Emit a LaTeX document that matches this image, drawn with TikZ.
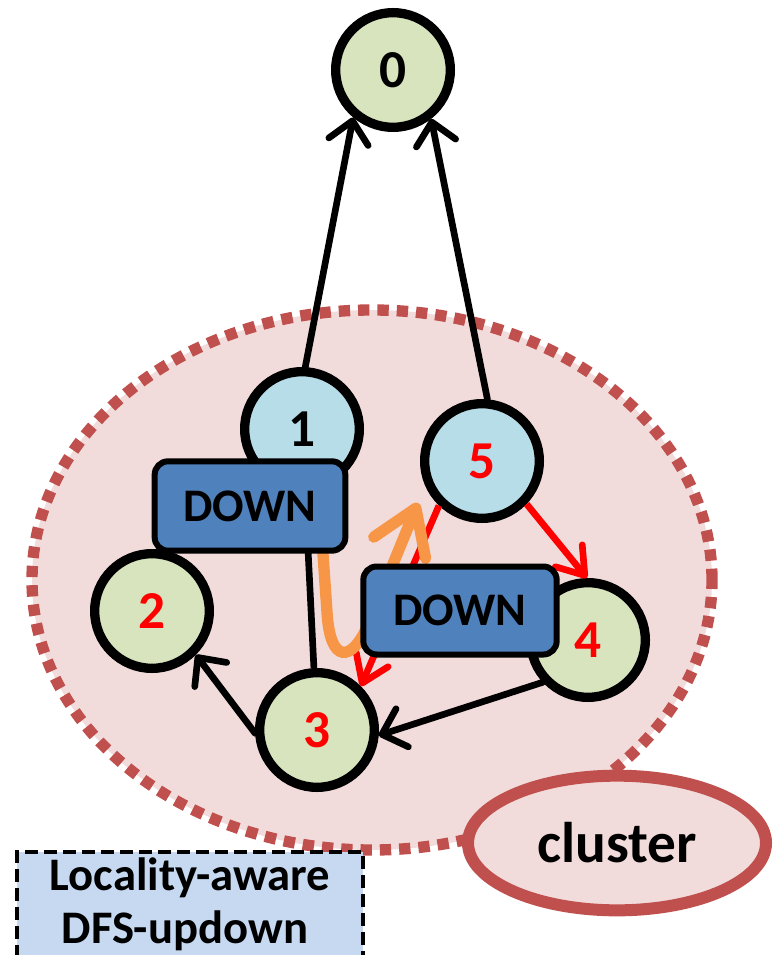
\documentclass[tikz,border=0pt]{standalone}
\usepackage{fontspec}
\setmainfont{Carlito}
\usetikzlibrary{arrows.meta,shapes.geometric}
\definecolor{leafgreen}{HTML}{D7E4BD}
\definecolor{hubblue}{HTML}{B7DEE8}
\definecolor{boxblue}{HTML}{4F81BD}
\definecolor{clusterfill}{HTML}{F2DCDB}
\definecolor{clusterline}{HTML}{C0504D}
\definecolor{flowcol}{HTML}{F79646}
\definecolor{legendfill}{HTML}{C6D9F1}
\definecolor{hotred}{HTML}{FF0000}
\begin{document}
\begin{tikzpicture}[x=0.75pt,y=-0.75pt,
  vertex/.style={circle,draw=black,line width=7pt,minimum size=86pt,inner sep=0pt,
    font=\bfseries\fontsize{40}{40}\selectfont},
  leafv/.style={vertex,fill=leafgreen},
  hubv/.style={vertex,fill=hubblue},
  hot/.style={text=hotred},
  downbox/.style={rectangle,rounded corners=10pt,draw=black,fill=boxblue,line width=4.5pt,
    inner sep=0pt,font=\bfseries\fontsize{35}{35}\selectfont},
  blackedge/.style={draw=black,line width=5pt,line cap=round,
    -{Straight Barb[length=16pt,width=30pt,round]}},
  plainedge/.style={draw=black,line width=5pt},
  rededge/.style={draw=hotred,line width=5pt,
    -{Straight Barb[length=19pt,width=26pt,round]}},
  flow/.style={draw=flowcol,line width=8.5pt,line cap=round,
    -{Straight Barb[length=32pt,width=42pt,round]}},
  legendtext/.style={anchor=base,inner sep=0pt,font=\bfseries\fontsize{35}{35}\selectfont}
]
\useasboundingbox (0,0) rectangle (777,955);
\clip (0,0) rectangle (777,955);

% cluster region
\node[ellipse,draw=clusterline,fill=clusterfill,line width=8.5pt,
  dash pattern=on 8.5pt off 6pt,minimum width=510pt,minimum height=405pt,inner sep=0pt]
  (region) at (372,580) {};

% vertices
\node[leafv] (n0) at (393,70) {0};
\node[hubv] (n1) at (302,429) {1};
\node[leafv,hot] (n2) at (152,611) {2};
\node[leafv,hot] (n3) at (317,730) {3};
\node[leafv,hot] (n4) at (588,640) {4};
\node[hubv,hot] (n5) at (482,461) {5};

% edges
\draw[blackedge] (n1.87) -- (n0.230);
\draw[blackedge] (n5.85) -- (n0.308);
\draw[plainedge] (n1) -- (n3);
\draw[blackedge] (n3.183) -- (n2.315);
\draw[blackedge] (n4.223) -- (n3.355);
\draw[rededge] (n5.316) -- (n4.91);
\draw[rededge] (n5.226) -- (n3.45);

% traversal path
\coordinate (o1) at (322,540);
\coordinate (o2) at (327,612);
\coordinate (o3) at (330,665);
\coordinate (o4) at (352,662);
\coordinate (o5) at (368,625);
\coordinate (o6) at (418,503);
\draw[flow] (o1) -- (o2) .. controls (o3) and (o4) .. (o5) -- (o6);

% state boxes
\node[downbox,minimum width=143pt,minimum height=67pt] (d1) at (250,506) {DOWN};
\node[downbox,minimum width=145pt,minimum height=66pt] (d2) at (460,610.5) {DOWN};

% cluster legend
\node[ellipse,draw=clusterline,fill=clusterfill,line width=9pt,minimum width=223.5pt,
  minimum height=101pt,inner sep=0pt,font=\bfseries\fontsize{43}{43}\selectfont]
  (cl) at (617,843) {cluster};

% algorithm label
\node[draw=black,line width=3pt,dash pattern=on 9.75pt off 4.5pt,fill=legendfill,
  minimum width=259.5pt,minimum height=81pt,inner sep=0pt] (leg) at (190,906) {};
\node[legendtext] (leg1) at (190,890) {Locality-aware};
\node[legendtext] (leg2) at (185,943) {DFS-updown};
\end{tikzpicture}
\end{document}
